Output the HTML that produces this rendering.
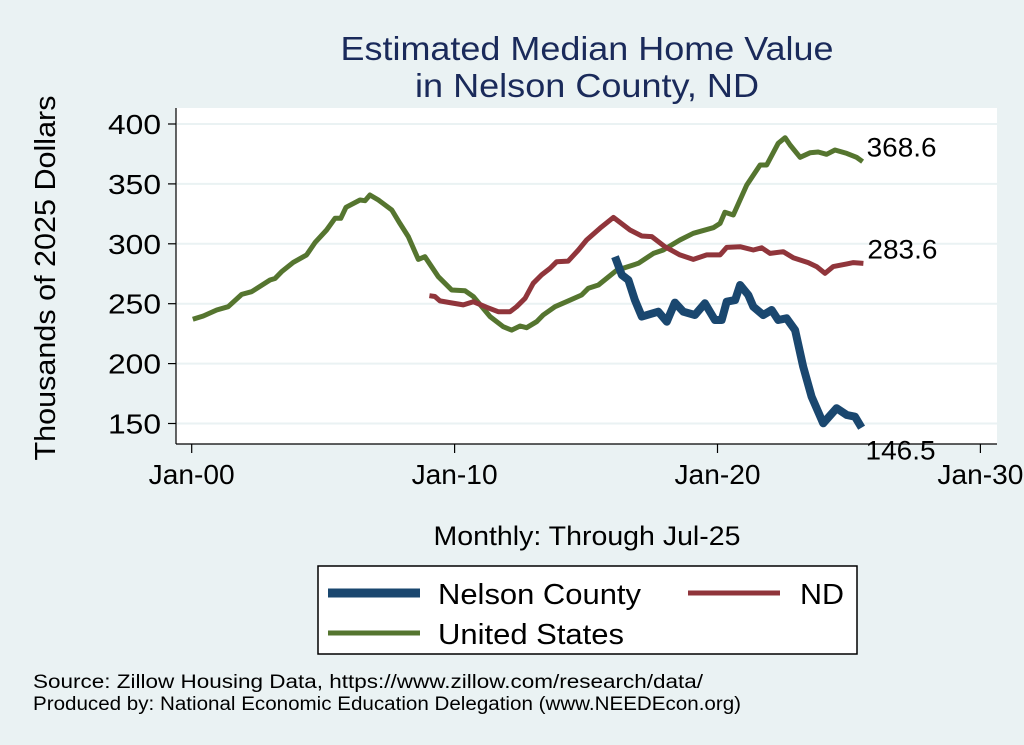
<!DOCTYPE html>
<html><head><meta charset="utf-8"><style>
body{margin:0;background:#eaf2f3;}
svg{display:block;font-family:"Liberation Sans",Arial,sans-serif;}
</style></head><body>
<svg id="chart" width="1024" height="745" viewBox="0 0 1024 745">
<rect width="1024" height="745" fill="#eaf2f3"/>
<rect x="176" y="108" width="821" height="336" fill="#fff"/>
<text x="587" y="60" text-anchor="middle" font-size="33" fill="#1a2a5a" textLength="493" lengthAdjust="spacingAndGlyphs">Estimated Median Home Value</text>
<text x="587" y="97" text-anchor="middle" font-size="33" fill="#1a2a5a" textLength="344" lengthAdjust="spacingAndGlyphs">in Nelson County, ND</text>
<g id="grid"></g><g id="axes"></g><g id="series"></g><g id="labels"></g>
<text transform="translate(55,278) rotate(-90)" text-anchor="middle" font-size="29" fill="#000" textLength="365" lengthAdjust="spacingAndGlyphs">Thousands of 2025 Dollars</text>
<text x="587" y="545" text-anchor="middle" font-size="27" fill="#000" textLength="307" lengthAdjust="spacingAndGlyphs">Monthly: Through Jul-25</text>
<g>
<rect x="318" y="566" width="539" height="88" fill="#fff" stroke="#000" stroke-width="1.5"/>
<line x1="328" y1="593" x2="420" y2="593" stroke="#1a476f" stroke-width="9"/>
<text x="438" y="604" font-size="29" textLength="203" lengthAdjust="spacingAndGlyphs">Nelson County</text>
<line x1="688" y1="593" x2="780" y2="593" stroke="#90353b" stroke-width="5"/>
<text x="800" y="604" font-size="29" textLength="44" lengthAdjust="spacingAndGlyphs">ND</text>
<line x1="328" y1="633" x2="420" y2="633" stroke="#55752f" stroke-width="5"/>
<text x="438" y="644" font-size="29" textLength="186" lengthAdjust="spacingAndGlyphs">United States</text>
</g>
<text x="33" y="688" font-size="19" textLength="670" lengthAdjust="spacingAndGlyphs">Source: Zillow Housing Data, https://www.zillow.com/research/data/</text>
<text x="33" y="710" font-size="19" textLength="708" lengthAdjust="spacingAndGlyphs">Produced by: National Economic Education Delegation (www.NEEDEcon.org)</text>
</svg>
<script>
const yTicks=[150,200,250,300,350,400];
const xTickYears=[0,10,20,30];
const xTickLabels=["Jan-00","Jan-10","Jan-20","Jan-30"];
const usYears=[0.04,0.44,0.95,1.39,1.9,2.28,2.98,3.17,3.42,3.86,4.37,4.69,5.13,5.45,5.67,5.87,6.4,6.59,6.78,7.1,7.61,7.92,8.24,8.62,8.87,9.38,9.89,10.4,10.71,11.35,11.85,12.17,12.49,12.74,13.12,13.37,13.82,14.32,14.83,15.09,15.47,16.17,16.99,17.56,17.94,18.57,19.08,19.84,20.1,20.28,20.6,21.11,21.62,21.87,22.31,22.57,22.76,23.14,23.52,23.83,24.15,24.47,24.92,25.29,25.52];
const usValues=[237,239.7,244.7,247.5,257.8,260,269.8,271,276.7,284.5,290.7,301,311.5,321.3,321.3,330.5,336.6,336,340.7,336.6,328.2,317,306,287,289.2,272.5,261.4,260.8,256,239.2,230.8,228,231.4,230,235,240.6,247.5,252.3,257.3,262.9,265.6,278,283.7,292,294.8,303.2,308.8,313.4,317,326.3,324,349,365.8,365.8,383.9,388.6,382.5,372.2,376,376.6,374.7,378.3,375.5,372.2,368.6];
const ndYears=[9.04,9.25,9.44,9.82,10.33,10.71,11.22,11.66,12.11,12.36,12.68,12.99,13.31,13.63,13.88,14.32,14.71,15.02,15.53,16.04,16.67,17.12,17.5,18,18.57,19.08,19.59,20.1,20.35,20.86,21.36,21.68,22,22.5,22.88,23.45,23.77,24.09,24.4,24.92,25.17,25.55];
const ndValues=[256.7,256,252.3,250.9,249,251.7,247,243.3,243.3,247.5,254.5,267,274,279.5,285,285.6,294.8,303.2,313,322,311.5,306.5,306,297.6,290.7,287,290.7,290.7,297,297.6,294.8,296.7,292,293.4,288.4,284.3,281,275.4,281,283.2,284.3,283.6];
const nelsonYears=[16.1,16.36,16.61,16.86,17.12,17.75,18.07,18.38,18.7,19.14,19.52,19.9,20.16,20.35,20.67,20.86,21.17,21.36,21.74,22.06,22.31,22.63,22.95,23.26,23.58,24.02,24.53,24.92,25.23,25.48];
const nelsonValues=[289.2,274,269.8,253,239.2,243.3,235,250.9,243.3,240.6,250.3,236.4,236.4,251.7,253,265.6,257.3,247.5,240.6,244.7,236.4,237.8,228,197.4,172.4,150.2,162.8,157.1,155.7,146.5];
const endLabels=["368.6","283.6","146.5"];

const NS="http://www.w3.org/2000/svg";
const X=yr=>191.7+yr*26.29;
const Y=v=>423.5-(v-150)*1.198;
function mk(tag,attrs,parent,txt){const e=document.createElementNS(NS,tag);for(const k in attrs)e.setAttribute(k,attrs[k]);if(txt!==undefined)e.textContent=txt;parent.appendChild(e);return e;}
const grid=document.getElementById('grid'),axes=document.getElementById('axes'),series=document.getElementById('series'),labels=document.getElementById('labels');
yTicks.forEach(v=>{
  const g=mk('line',{x1:177,x2:997,y1:Y(v),y2:Y(v),stroke:'#eaf2f3','stroke-width':2},grid);
  
  
  mk('line',{x1:168,x2:176,y1:Y(v),y2:Y(v),stroke:'#000','stroke-width':1.2},axes);
  const t=mk('text',{x:161,y:Y(v)+10,'text-anchor':'end','font-size':28,textLength:53,lengthAdjust:'spacingAndGlyphs'},axes,String(v));
  
  
});
mk('line',{x1:176,x2:176,y1:108,y2:444,stroke:'#000','stroke-width':1.2},axes);
mk('line',{x1:176,x2:997,y1:444,y2:444,stroke:'#000','stroke-width':1.2},axes);
xTickYears.forEach((yr,i)=>{
  mk('line',{x1:X(yr),x2:X(yr),y1:444,y2:453,stroke:'#000','stroke-width':1.2},axes);
  const t=mk('text',{x:X(yr),y:484,'text-anchor':'middle','font-size':28,textLength:86,lengthAdjust:'spacingAndGlyphs'},axes,xTickLabels[i]);
  
  
});
function line(xs,vs,color,w,name){
  const d=xs.map((x,i)=>(i?'L':'M')+X(x).toFixed(1)+' '+Y(vs[i]).toFixed(1)).join(' ');
  const p=mk('path',{d:d,fill:'none',stroke:color,'stroke-width':w,'stroke-linejoin':'round'},series);
  
  
}
line(usYears,usValues,'#55752f',5,'us-line');
line(ndYears,ndValues,'#90353b',5,'nd-line');
line(nelsonYears,nelsonValues,'#1a476f',8,'nelson-line');
const ends=[[usYears,usValues],[ndYears,ndValues],[nelsonYears,nelsonValues]];
ends.forEach((s,i)=>{
  const n=s[0].length-1;
  const t=mk('text',{x:X(s[0][n])+4,y:Y(s[1][n])+(i===2?32:-5),'font-size':27,textLength:70,lengthAdjust:'spacingAndGlyphs'},labels,endLabels[i]);
  
  
});
</script>
</body></html>
